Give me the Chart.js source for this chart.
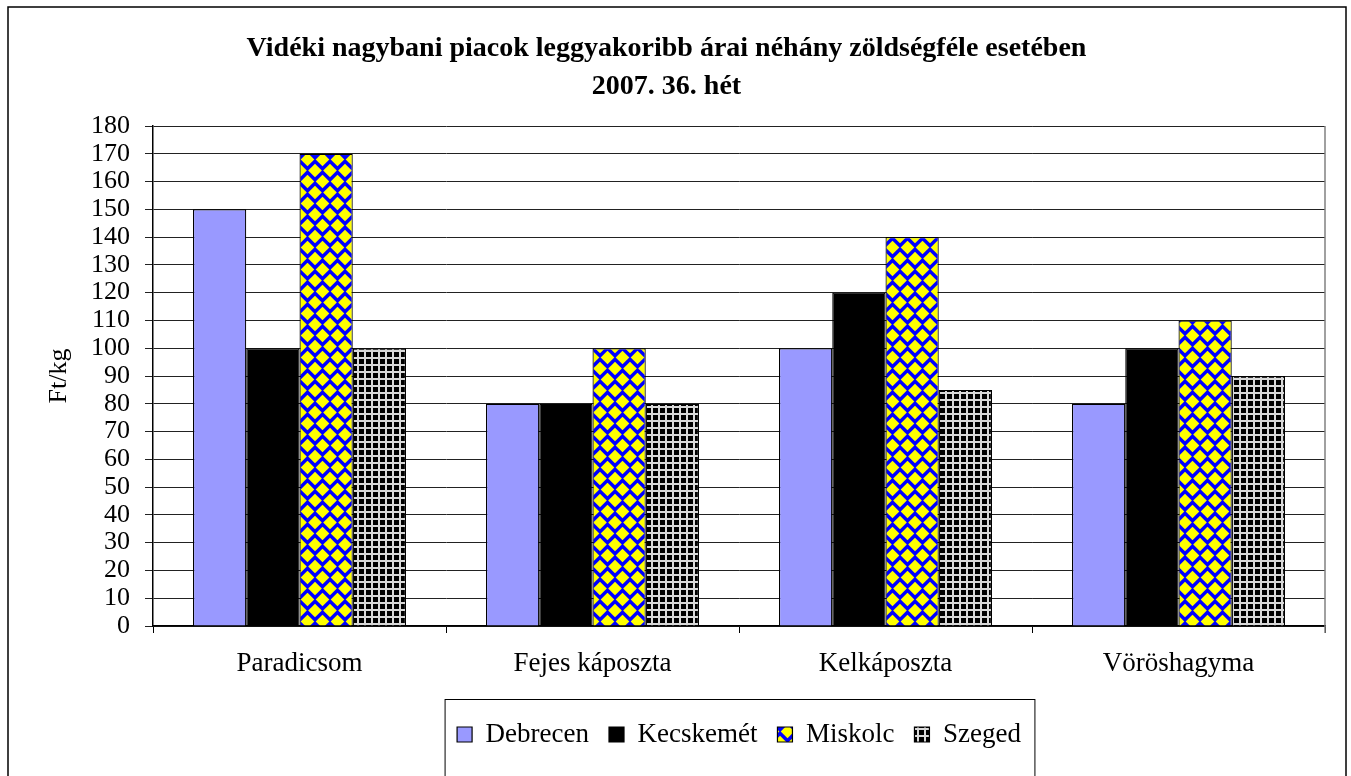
<!DOCTYPE html>
<html>
<head>
<meta charset="utf-8">
<script src="https://cdn.jsdelivr.net/npm/chart.js@4"></script>
<style>
  html, body { margin: 0; padding: 0; background: #fff; }
  #wrap { width: 1351px; height: 776px; position: relative; }
</style>
</head>
<body>
<div id="wrap"><canvas id="c"></canvas></div>
<script>
const categories = ['Paradicsom', 'Fejes káposzta', 'Kelkáposzta', 'Vöröshagyma'];
const seriesNames = ['Debrecen', 'Kecskemét', 'Miskolc', 'Szeged'];
const debrecen = [150, 80, 100, 80];
const kecskemet = [100, 80, 120, 100];
const miskolc = [170, 100, 140, 110];
const szeged = [100, 80, 85, 90];
const titleLines = ['Vidéki nagybani piacok leggyakoribb árai néhány zöldségféle esetében', '2007. 36. hét'];
const yTitle = 'Ft/kg';
const yMin = 0, yMax = 180, yStep = 10;

const FONT = "'Liberation Serif', 'Times New Roman', serif";

function makePattern(w, h, draw) {
  const c = document.createElement('canvas');
  c.width = w; c.height = h;
  const x = c.getContext('2d');
  draw(x, w, h);
  return document.getElementById('c').getContext('2d').createPattern(c, 'repeat');
}
const miskolcPattern = makePattern(15, 22, (x, w, h) => {
  x.fillStyle = '#0000FF'; x.fillRect(0, 0, w, h);
  x.fillStyle = '#FFFF00';
  const dia = (cx, cy, r) => { x.beginPath(); x.moveTo(cx, cy - r); x.lineTo(cx + r, cy); x.lineTo(cx, cy + r); x.lineTo(cx - r, cy); x.closePath(); x.fill(); };
  const pts = [[7.5, 5.5], [0, 16.5], [15, 16.5], [7.5, 27.5], [0, -5.5], [15, -5.5]];
  pts.forEach(p => dia(p[0], p[1], 6.8));
});
const szegedPattern = makePattern(7, 7, (x, w, h) => {
  x.fillStyle = '#000'; x.fillRect(0, 0, w, h);
  x.fillStyle = '#d9d9d9'; x.fillRect(0, 0, w, 2); x.fillRect(0, 0, 2, h);
});

const fills = ['#9999FF', '#000000', miskolcPattern, szegedPattern];
const values = [debrecen, kecskemet, miskolc, szeged];

const framePlugin = {
  id: 'frame',
  beforeDraw(chart) {
    const ctx = chart.ctx;
    ctx.save();
    ctx.fillStyle = '#fff';
    ctx.fillRect(0, 0, chart.width, chart.height);
    ctx.restore();
  },
  afterDraw(chart) {
    const ctx = chart.ctx;
    const a = chart.chartArea;
    ctx.save();
    ctx.strokeStyle = '#808080';
    ctx.lineWidth = 1.5;
    ctx.beginPath();
    ctx.moveTo(a.right, a.top);
    ctx.lineTo(a.right, a.bottom + 7);
    ctx.stroke();
    ctx.strokeStyle = '#000';
    ctx.lineWidth = 1.5;
    ctx.strokeRect(8, 7, 1338, 776);
    const hb = chart.legend.legendHitBoxes;
    if (hb && hb.length) {
      let l = Infinity, r = -Infinity, t = Infinity, b = -Infinity;
      hb.forEach(h => { l = Math.min(l, h.left); r = Math.max(r, h.left + h.width); t = Math.min(t, h.top); b = Math.max(b, h.top + h.height); });
      const cy = (t + b) / 2;
      ctx.lineWidth = 1;
      ctx.strokeStyle = '#000';
      ctx.strokeRect(l - 12, cy - 35, (r - l) + 26, 80);
    }
    ctx.restore();
  }
};

new Chart(document.getElementById('c'), {
  type: 'bar',
  data: {
    labels: categories,
    datasets: seriesNames.map((n, i) => ({
      label: n,
      data: values[i],
      backgroundColor: fills[i],
      borderColor: '#000',
      borderWidth: 1.2,
      categoryPercentage: 0.727,
      barPercentage: 1
    }))
  },
  options: {
    responsive: true,
    maintainAspectRatio: false,
    animation: false,
    devicePixelRatio: 1,
    layout: { padding: { left: 8, right: 26, top: 0, bottom: 18 } },
    plugins: {
      title: {
        display: true,
        text: titleLines,
        color: '#000',
        font: { family: FONT, size: 28, weight: 'bold', lineHeight: '38px' },
        padding: { top: 30, bottom: 20 }
      },
      legend: {
        position: 'bottom',
        fullSize: false,
        labels: {
          color: '#000',
          font: { family: FONT, size: 27 },
          boxWidth: 15,
          boxHeight: 15,
          padding: 20
        }
      },
      tooltip: { enabled: false }
    },
    scales: {
      x: {
        offset: true,
        grid: { offset: true, drawOnChartArea: false, color: '#000', tickLength: 7, lineWidth: 1 },
        border: { color: '#000', width: 1.5 },
        ticks: { color: '#000', font: { family: FONT, size: 27 }, padding: 15, maxRotation: 0 },
        afterFit(scale) { scale.height = 75; }
      },
      y: {
        min: yMin, max: yMax,
        ticks: { stepSize: yStep, autoSkip: false, color: '#000', font: { family: FONT, size: 26 }, padding: 15 },
        grid: { color: '#222', lineWidth: 1, tickLength: 8 },
        border: { color: '#000', width: 1.5 },
        title: { display: true, text: yTitle, color: '#000', font: { family: FONT, size: 26 }, padding: { top: 36, bottom: 0 } },
        afterFit(scale) { scale.width = 145; }
      }
    }
  },
  plugins: [framePlugin]
});
</script>
</body>
</html>
